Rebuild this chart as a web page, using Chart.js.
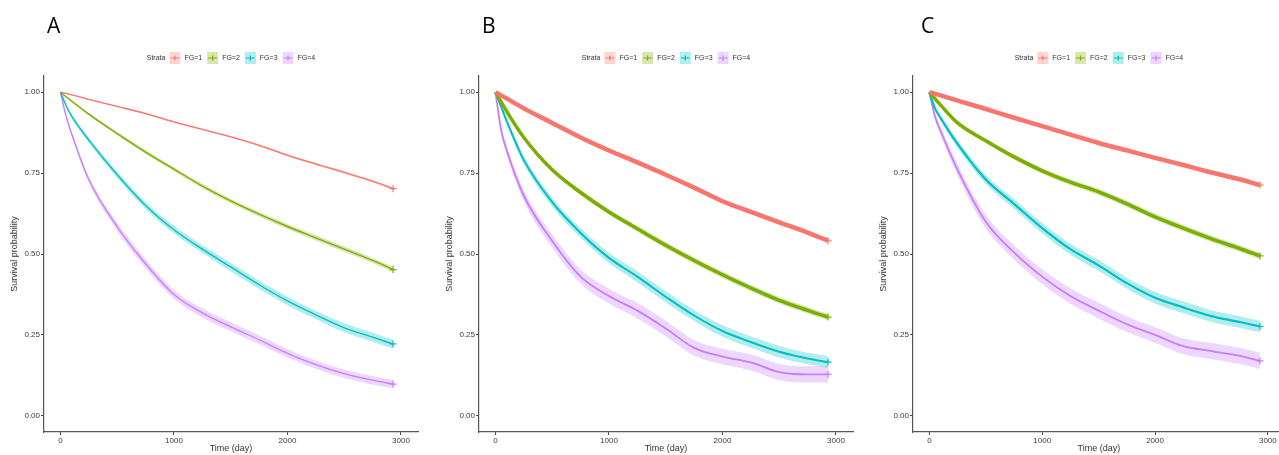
<!DOCTYPE html>
<html>
<head>
<meta charset="utf-8">
<script src="https://cdn.jsdelivr.net/npm/chart.js@4"></script>
<style>
body { margin: 0; background: #fff; width: 1279px; height: 455px; overflow: hidden; position: relative; }
canvas { position: absolute; top: 0; }
</style>
</head>
<body>
<canvas id="chartA" width="430" height="455" style="left:0"></canvas>
<canvas id="chartB" width="430" height="455" style="left:430px"></canvas>
<canvas id="chartC" width="430" height="455" style="left:860px"></canvas>
<script>
// time points (days) the curves were read at
const times = [0, 50, 100, 250, 500, 750, 1000, 1250, 1500, 1750, 2000, 2250, 2500, 2750, 2930];
const groups = ['FG=1', 'FG=2', 'FG=3', 'FG=4'];
const xTicks = [0, 1000, 2000, 3000];
const yTicks = [0, 0.25, 0.5, 0.75, 1];

// panel A survival
const a1 = [1, 0.996, 0.992, 0.978, 0.956, 0.934, 0.908, 0.885, 0.862, 0.836, 0.805, 0.778, 0.752, 0.725, 0.702];
const a2 = [1, 0.986, 0.972, 0.932, 0.872, 0.815, 0.762, 0.710, 0.664, 0.623, 0.585, 0.550, 0.515, 0.480, 0.452];
const a3 = [1, 0.958, 0.925, 0.852, 0.745, 0.650, 0.575, 0.515, 0.460, 0.405, 0.355, 0.312, 0.272, 0.243, 0.222];
const a4 = [1, 0.925, 0.870, 0.730, 0.584, 0.470, 0.375, 0.318, 0.275, 0.235, 0.193, 0.158, 0.130, 0.110, 0.098];
// panel B survival
const b1 = [1, 0.990, 0.980, 0.950, 0.905, 0.860, 0.820, 0.783, 0.745, 0.705, 0.663, 0.630, 0.598, 0.566, 0.541];
const b2 = [1, 0.970, 0.940, 0.860, 0.760, 0.690, 0.630, 0.578, 0.527, 0.480, 0.436, 0.395, 0.357, 0.326, 0.305];
const b3 = [1, 0.955, 0.910, 0.790, 0.660, 0.565, 0.488, 0.430, 0.368, 0.310, 0.262, 0.228, 0.198, 0.177, 0.166];
const b4 = [1, 0.883, 0.820, 0.680, 0.540, 0.430, 0.370, 0.325, 0.270, 0.210, 0.183, 0.165, 0.135, 0.128, 0.128];
// panel C survival
const c1 = [1, 0.995, 0.990, 0.974, 0.948, 0.921, 0.895, 0.869, 0.843, 0.820, 0.797, 0.775, 0.752, 0.731, 0.713];
const c2 = [1, 0.980, 0.960, 0.905, 0.850, 0.800, 0.757, 0.722, 0.692, 0.655, 0.615, 0.580, 0.547, 0.517, 0.494];
const c3 = [1, 0.950, 0.920, 0.840, 0.730, 0.655, 0.580, 0.515, 0.465, 0.410, 0.365, 0.335, 0.308, 0.290, 0.276];
const c4 = [1, 0.925, 0.880, 0.760, 0.600, 0.505, 0.430, 0.370, 0.325, 0.283, 0.250, 0.215, 0.200, 0.185, 0.170];

// confidence band half widths
const aCi1 = [0, 0.001, 0.001, 0.002, 0.002, 0.003, 0.003, 0.003, 0.003, 0.004, 0.004, 0.004, 0.004, 0.004, 0.004];
const aCi2 = [0, 0.002, 0.003, 0.004, 0.005, 0.006, 0.006, 0.007, 0.007, 0.007, 0.008, 0.008, 0.008, 0.008, 0.008];
const aCi3 = [0, 0.004, 0.006, 0.008, 0.010, 0.011, 0.012, 0.012, 0.013, 0.013, 0.013, 0.013, 0.014, 0.014, 0.014];
const aCi4 = [0, 0.006, 0.008, 0.011, 0.013, 0.014, 0.014, 0.014, 0.014, 0.014, 0.013, 0.013, 0.013, 0.013, 0.013];
const bCi1 = [0, 0.002, 0.002, 0.003, 0.004, 0.004, 0.005, 0.005, 0.005, 0.006, 0.006, 0.006, 0.006, 0.006, 0.006];
const bCi2 = [0, 0.003, 0.004, 0.006, 0.007, 0.008, 0.009, 0.009, 0.010, 0.010, 0.010, 0.010, 0.010, 0.010, 0.010];
const bCi3 = [0, 0.006, 0.008, 0.012, 0.014, 0.015, 0.016, 0.017, 0.017, 0.017, 0.018, 0.018, 0.018, 0.018, 0.018];
const bCi4 = [0, 0.010, 0.013, 0.018, 0.021, 0.022, 0.023, 0.024, 0.024, 0.024, 0.024, 0.025, 0.025, 0.025, 0.025];
const cCi1 = [0, 0.002, 0.002, 0.003, 0.004, 0.004, 0.005, 0.005, 0.005, 0.006, 0.006, 0.006, 0.006, 0.006, 0.006];
const cCi2 = [0, 0.003, 0.004, 0.006, 0.007, 0.008, 0.009, 0.009, 0.010, 0.010, 0.010, 0.010, 0.010, 0.010, 0.010];
const cCi3 = [0, 0.006, 0.008, 0.012, 0.014, 0.015, 0.016, 0.017, 0.017, 0.017, 0.018, 0.018, 0.018, 0.018, 0.018];
const cCi4 = [0, 0.010, 0.013, 0.018, 0.021, 0.022, 0.023, 0.024, 0.024, 0.024, 0.024, 0.025, 0.025, 0.025, 0.025];

const colors = ['#F8766D', '#7CAE00', '#00BFC4', '#C77CFF'];
const bandColors = ['rgba(248,118,109,0.3)', 'rgba(124,174,0,0.3)', 'rgba(0,191,196,0.3)', 'rgba(199,124,255,0.3)'];
const font = "'Liberation Sans', Arial, sans-serif";

function pts(vals, off, sign) {
    return times.map((t, i) => ({ x: t, y: vals[i] + (off ? sign * off[i] : 0) }));
}

// letter + inline "Strata" legend above the plot
const headerPlugin = {
    id: 'header',
    afterDraw(chart, args, opts) {
        const ctx = chart.ctx;
        ctx.save();
        ctx.fillStyle = '#000';
        ctx.font = "21px 'Open Sans', sans-serif";
        ctx.textBaseline = 'alphabetic';
        ctx.fillText(opts.letter, opts.letterX, 33);

        ctx.font = '7px ' + font;
        ctx.textBaseline = 'middle';
        const y = 58, key = 11, gap = 4, itemGap = 5;
        const titleW = ctx.measureText('Strata').width;
        let total = titleW + gap;
        groups.forEach((g, i) => {
            total += key + gap + ctx.measureText(g).width + (i < groups.length - 1 ? itemGap : 0);
        });
        const area = chart.chartArea;
        let x = (area.left + area.right) / 2 - total / 2;
        ctx.fillStyle = '#333';
        ctx.fillText('Strata', x, y);
        x += titleW + gap;
        groups.forEach((g, i) => {
            ctx.fillStyle = bandColors[i];
            ctx.fillRect(x, y - 6, key, 12);
            ctx.strokeStyle = colors[i];
            ctx.lineWidth = 1.2;
            ctx.beginPath();
            ctx.moveTo(x + 1, y); ctx.lineTo(x + key - 1, y);
            ctx.moveTo(x + key / 2, y - 2.5); ctx.lineTo(x + key / 2, y + 2.5);
            ctx.stroke();
            x += key + gap;
            ctx.fillStyle = '#333';
            ctx.fillText(g, x, y);
            x += ctx.measureText(g).width + itemGap;
        });
        ctx.restore();
    }
};

function makeChart(id, series, cis, widths, letter, letterX, yWidth, padRight) {
    const datasets = [];
    series.forEach((vals, i) => {
        datasets.push({
            data: pts(vals, cis[i], 1), borderWidth: 0, pointRadius: 0, fill: false,
            cubicInterpolationMode: 'monotone', order: 2
        });
        datasets.push({
            data: pts(vals, cis[i], -1), borderWidth: 0, pointRadius: 0, fill: '-1',
            backgroundColor: bandColors[i], cubicInterpolationMode: 'monotone', order: 2
        });
    });
    series.forEach((vals, i) => {
        datasets.push({
            label: groups[i],
            data: pts(vals),
            borderColor: colors[i],
            backgroundColor: colors[i],
            borderWidth: widths[i],
            cubicInterpolationMode: 'monotone',
            pointStyle: 'cross',
            pointRadius: c => (c.dataIndex === times.length - 1 ? 3.5 : 0),
            pointBorderWidth: 1.2,
            pointBorderColor: colors[i],
            fill: false,
            order: 1
        });
    });

    return new Chart(document.getElementById(id), {
        type: 'line',
        data: { datasets },
        plugins: [headerPlugin],
        options: {
            responsive: false,
            animation: false,
            layout: { padding: { top: 76, right: padRight, left: 0, bottom: 0 } },
            plugins: {
                legend: { display: false },
                tooltip: { enabled: false },
                header: { letter, letterX }
            },
            scales: {
                x: {
                    type: 'linear', min: -145, max: 3150,
                    afterFit: s => { s.height = 23; },
                    afterBuildTicks: s => { s.ticks = xTicks.map(v => ({ value: v })); },
                    ticks: { font: { size: 8, family: font }, color: '#3a3a3a', padding: 1, maxRotation: 0, callback: v => String(v) },
                    grid: { drawOnChartArea: false, tickLength: 3, color: '#444' },
                    border: { color: '#555', width: 1.2 },
                    title: { display: true, text: 'Time (day)', font: { size: 9, family: font }, color: '#333', padding: { top: 0, bottom: 1 } }
                },
                y: {
                    min: -0.05, max: 1.05,
                    afterFit: s => { s.width = yWidth; },
                    afterBuildTicks: s => { s.ticks = yTicks.map(v => ({ value: v })); },
                    ticks: { font: { size: 8, family: font }, color: '#3a3a3a', padding: 1, callback: v => v.toFixed(2) },
                    grid: { drawOnChartArea: false, tickLength: 3, color: '#444' },
                    border: { color: '#555', width: 1.2 },
                    title: { display: true, text: 'Survival probability', font: { size: 9, family: font }, color: '#333', padding: { top: yWidth - 35, bottom: 0 } }
                }
            }
        }
    });
}

makeChart('chartA', [a1, a2, a3, a4], [aCi1, aCi2, aCi3, aCi4], [1.3, 1.4, 1.4, 1.3], 'A', 47, 44, 12);
makeChart('chartB', [b1, b2, b3, b4], [bCi1, bCi2, bCi3, bCi4], [4.5, 3.5, 2, 1.8], 'B', 52, 49, 7);
makeChart('chartC', [c1, c2, c3, c4], [cCi1, cCi2, cCi3, cCi4], [4.5, 3.5, 2.2, 1.8], 'C', 61, 53, 2);
</script>
</body>
</html>
